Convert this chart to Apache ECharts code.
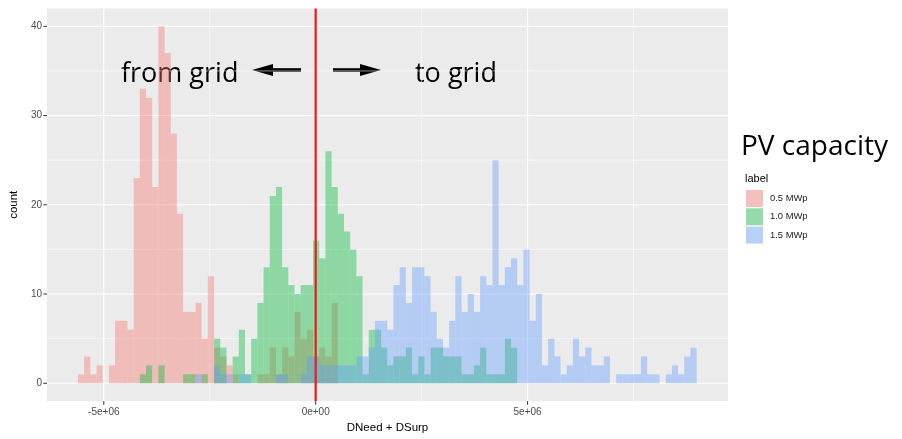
<!DOCTYPE html>
<html><head><meta charset="utf-8">
<script src="https://cdn.jsdelivr.net/npm/echarts@6/dist/echarts.min.js"></script>
<style>html,body{margin:0;padding:0;background:#fff}#c{width:902px;height:439px}</style>
</head><body><div id="c"></div>
<script>
// ---- data ----
const seriesNames = ['0.5 MWp', '1.0 MWp', '1.5 MWp'];
const binStart = -5.61e6;
const binWidth = 0.146e6;
const counts05 = [
  1,3,1,2,0,2,7,7,6,23,
  33,32,22,40,37,28,19,8,8,9,
  5,12,4,3,2,1,0,0,0,1,
  1,4,1,4,3,8,5,6,3,4,
  3,9,0,0,0,0,0,0,0,0,
  0,0,0,0,0,0,0,0,0,0,
  0,0,0,0,0,0,0,0,0,0,
  0,0,0,0,0,0,0,0,0,0,
  0,0,0,0,0,0,0,0,0,0,
  0,0,0,0,0,0,0,0,0,0
];
const counts10 = [
  0,0,0,0,0,0,0,0,0,0,
  1,2,0,2,0,0,0,1,1,0,
  1,0,5,4,0,3,6,1,5,9,
  13,21,22,13,11,10,11,11,16,14,
  26,22,19,17,15,12,1,6,6,4,
  2,3,3,4,1,3,1,4,4,3,
  3,3,1,1,2,4,1,1,1,5,
  4,0,0,0,0,0,0,0,0,0,
  0,0,0,0,0,0,0,0,0,0,
  0,0,0,0,0,0,0,0,0,0
];
const counts15 = [
  0,0,0,0,0,0,0,0,0,0,
  0,0,0,0,0,0,0,0,0,1,
  0,0,2,1,1,0,1,1,0,0,
  0,0,1,1,0,0,1,3,3,2,
  2,2,2,2,2,3,3,4,7,7,
  6,11,13,9,13,13,12,8,5,4,
  7,12,8,10,8,12,11,25,11,13,
  14,11,15,7,10,2,5,3,1,2,
  5,3,4,2,2,3,0,1,1,1,
  1,3,1,1,0,1,2,1,3,4
];
const xMajorTicks = [-5e6, 0, 5e6];
const xTickLabels = ['-5e+06', '0e+00', '5e+06'];
const xMinorTicks = [-2.5e6, 2.5e6, 7.5e6];
const yMajorTicks = [0, 10, 20, 30, 40];
const yMinorTicks = [5, 15, 25, 35];
const refLineValue = [0];

// ---- styles ----
const fills = ['rgba(248,118,109,0.4)', 'rgba(0,186,56,0.4)', 'rgba(97,156,255,0.4)'];
const legendFills = ['#F4C0BD', '#91DCA8', '#B8D0F7'];

function binData(counts) {
  const out = [];
  counts.forEach((c, i) => { if (c > 0) out.push([binStart + i * binWidth, binStart + (i + 1) * binWidth, c]); });
  return out;
}
function histSeries(name, counts, fill) {
  return {
    name: name, type: 'custom', z: 3,
    itemStyle: { color: fill },
    data: binData(counts),
    encode: { x: [0, 1], y: 2 },
    renderItem: function (params, api) {
      const p0 = api.coord([api.value(0), api.value(2)]);
      const p1 = api.coord([api.value(1), 0]);
      return { type: 'rect', shape: { x: p0[0], y: p0[1], width: p1[0] - p0[0], height: p1[1] - p0[1] }, style: { fill: fill } };
    }
  };
}
// dir: 'x' vertical gridline, 'y' horizontal gridline, 'xt' x-axis tick, 'yt' y-axis tick
function axisMarks(vals, dir, width, color, z) {
  return {
    type: 'custom', z: z, silent: true, clip: false, legendHoverLink: false,
    data: vals.map(v => [v]),
    renderItem: function (params, api) {
      const cs = params.coordSys;
      const v = api.value(0);
      let shape;
      if (dir === 'x') {
        const x = api.coord([v, 0])[0];
        shape = { x1: x, y1: cs.y, x2: x, y2: cs.y + cs.height };
      } else if (dir === 'y') {
        const y = api.coord([0, v])[1];
        shape = { x1: cs.x, y1: y, x2: cs.x + cs.width, y2: y };
      } else if (dir === 'xt') {
        const x = api.coord([v, 0])[0];
        shape = { x1: x, y1: cs.y + cs.height, x2: x, y2: cs.y + cs.height + 3.7 };
      } else {
        const y = api.coord([0, v])[1];
        shape = { x1: cs.x - 3.7, y1: y, x2: cs.x, y2: y };
      }
      return { type: 'line', shape: shape, style: { stroke: color, lineWidth: width } };
    }
  };
}

const chart = echarts.init(document.getElementById('c'), null, { renderer: 'canvas' });

chart.setOption({
  animation: false,
  backgroundColor: '#FFFFFF',
  grid: { left: 47, top: 8.5, width: 681, height: 399, show: true, backgroundColor: '#EBEBEB', borderWidth: 0 },
  xAxis: {
    type: 'value', min: -6.34e6, max: 9.73e6,
    name: 'DNeed + DSurp', nameLocation: 'middle', nameGap: 19,
    nameTextStyle: { color: '#000', fontSize: 11.5, fontFamily: 'Liberation Sans' },
    axisLine: { show: false }, splitLine: { show: false }, axisTick: { show: false },
    axisLabel: {
      customValues: xMajorTicks, margin: 6, color: '#4D4D4D', fontSize: 10, fontFamily: 'Liberation Sans',
      formatter: function (v) { let best = 0; xMajorTicks.forEach((t, i) => { if (Math.abs(t - v) < Math.abs(xMajorTicks[best] - v)) best = i; }); return xTickLabels[best]; }
    }
  },
  yAxis: {
    type: 'value', min: -2, max: 42,
    name: 'count', nameLocation: 'middle', nameGap: 20, nameRotate: 90,
    nameTextStyle: { color: '#000', fontSize: 11.5, fontFamily: 'Liberation Sans' },
    axisLine: { show: false }, splitLine: { show: false }, axisTick: { show: false },
    axisLabel: { customValues: yMajorTicks, margin: 5, color: '#4D4D4D', fontSize: 10, fontFamily: 'Liberation Sans' }
  },
  legend: {
    orient: 'vertical', left: 746, top: 190, padding: 0, itemWidth: 17, itemHeight: 17, itemGap: 1.3,
    icon: 'rect', selectedMode: false,
    textStyle: { color: '#1A1A1A', fontSize: 9.4, fontFamily: 'Liberation Sans', padding: [0, 0, 0, 2] },
    data: seriesNames.map((n, i) => ({ name: n, itemStyle: { color: legendFills[i] } }))
  },
  graphic: [
    { type: 'text', left: 745, top: 173, style: { text: 'label', fontSize: 11, fontFamily: 'Liberation Sans', fill: '#000' } },
    { type: 'text', x: 741, y: 147.5, style: { text: 'PV capacity', fontSize: 28, fontFamily: 'Open Sans', fill: '#000', verticalAlign: 'middle' } },
    { type: 'text', x: 121, y: 74, style: { text: 'from grid', fontSize: 27, fontFamily: 'Open Sans', fill: '#000', verticalAlign: 'middle' } },
    { type: 'text', x: 415, y: 74, style: { text: 'to grid', fontSize: 27, fontFamily: 'Open Sans', fill: '#000', verticalAlign: 'middle' } },
    { type: 'line', shape: { x1: 270, y1: 70, x2: 301, y2: 70 }, style: { stroke: '#000', lineWidth: 3.6 } },
    { type: 'polygon', shape: { points: [[252, 70], [273, 64], [273, 76]] }, style: { fill: '#000' } },
    { type: 'line', shape: { x1: 333, y1: 70, x2: 363, y2: 70 }, style: { stroke: '#000', lineWidth: 3.6 } },
    { type: 'polygon', shape: { points: [[381, 70], [360, 64], [360, 76]] }, style: { fill: '#000' } }
  ],
  series: [
    axisMarks(xMinorTicks, 'x', 0.55, '#FFFFFF', 1),
    axisMarks(yMinorTicks, 'y', 0.55, '#FFFFFF', 1),
    axisMarks(xMajorTicks, 'x', 1.1, '#FFFFFF', 1),
    axisMarks(yMajorTicks, 'y', 1.1, '#FFFFFF', 1),
    axisMarks(xMajorTicks, 'xt', 1, '#333333', 1),
    axisMarks(yMajorTicks, 'yt', 1, '#333333', 1),
    histSeries(seriesNames[0], counts05, fills[0]),
    histSeries(seriesNames[1], counts10, fills[1]),
    histSeries(seriesNames[2], counts15, fills[2]),
    axisMarks(refLineValue, 'x', 2.2, '#EE1A1A', 10)
  ]
});
</script>
</body></html>
